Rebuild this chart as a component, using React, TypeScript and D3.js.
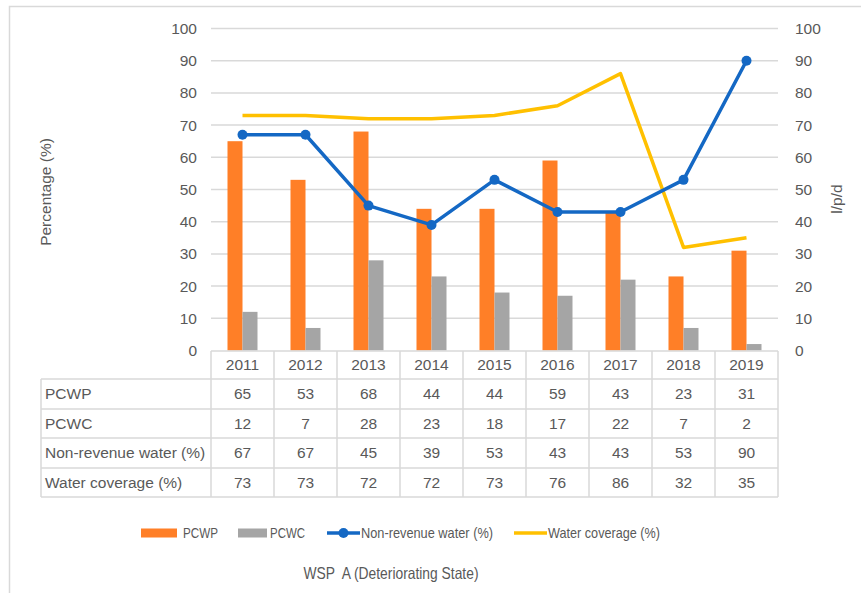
import React, { useEffect, useRef } from 'react';
import * as d3 from 'd3';

const years = ['2011', '2012', '2013', '2014', '2015', '2016', '2017', '2018', '2019'];
const pcwp = [65, 53, 68, 44, 44, 59, 43, 23, 31];
const pcwc = [12, 7, 28, 23, 18, 17, 22, 7, 2];
const nonRevenue = [67, 67, 45, 39, 53, 43, 43, 53, 90];
const coverage = [73, 73, 72, 72, 73, 76, 86, 32, 35];
const yTicks = [0, 10, 20, 30, 40, 50, 60, 70, 80, 90, 100];

const rowLabels = ['PCWP', 'PCWC', 'Non-revenue water (%)', 'Water coverage (%)'];
const rowValues = [pcwp, pcwc, nonRevenue, coverage];

const COLORS = {
  pcwp: '#FF7F27',
  pcwc: '#A5A5A5',
  nrw: '#1468C4',
  cov: '#FFC000',
  grid: '#D9D9D9',
  text: '#595959'
};

const FONT = '"Liberation Sans", Arial, sans-serif';

const App = () => {
  const svgRef = useRef(null);

  useEffect(() => {
    const svg = d3.select(svgRef.current);
    svg.selectAll('*').remove();

    const width = 861;
    const height = 593;
    const left = 211;
    const right = 778;
    const top = 28.5;
    const bottom = 350.5;

    svg.attr('width', width).attr('height', height);

    // outer frame
    svg.append('rect')
      .attr('x', 9.5).attr('y', 6.5)
      .attr('width', 900).attr('height', 700)
      .attr('fill', 'white')
      .attr('stroke', '#D9D9D9')
      .attr('stroke-width', 1.5);

    const x = d3.scaleBand().domain(years).range([left, right]);
    const y = d3.scaleLinear().domain([0, 100]).range([bottom, top]);

    const g = svg.append('g').style('font-family', FONT).style('fill', COLORS.text);

    // gridlines
    g.append('g')
      .selectAll('line')
      .data(yTicks.filter(t => t > 0))
      .enter()
      .append('line')
      .attr('x1', left).attr('x2', right)
      .attr('y1', d => y(d)).attr('y2', d => y(d))
      .attr('stroke', COLORS.grid)
      .attr('stroke-width', 1.5);

    // left ticks
    g.append('g')
      .selectAll('text')
      .data(yTicks)
      .enter()
      .append('text')
      .attr('x', 197)
      .attr('y', d => y(d))
      .attr('dy', '0.35em')
      .attr('text-anchor', 'end')
      .style('font-size', '15.5px')
      .text(d => d);

    // right ticks
    g.append('g')
      .selectAll('text')
      .data(yTicks)
      .enter()
      .append('text')
      .attr('x', 795)
      .attr('y', d => y(d))
      .attr('dy', '0.35em')
      .attr('text-anchor', 'start')
      .style('font-size', '15.5px')
      .text(d => d);

    // axis titles
    g.append('text')
      .attr('transform', `translate(51,192) rotate(-90)`)
      .attr('text-anchor', 'middle')
      .style('font-size', '15.5px')
      .text('Percentage (%)');

    g.append('text')
      .attr('transform', `translate(842,199) rotate(-90)`)
      .attr('text-anchor', 'middle')
      .style('font-size', '15.5px')
      .text('l/p/d');

    // bars
    const barW = 15;
    const bars = g.append('g');
    years.forEach((yr, i) => {
      const cx = x(yr) + x.bandwidth() / 2;
      bars.append('rect')
        .attr('x', cx - barW)
        .attr('y', y(pcwp[i]))
        .attr('width', barW)
        .attr('height', y(0) - y(pcwp[i]))
        .attr('fill', COLORS.pcwp);
      bars.append('rect')
        .attr('x', cx)
        .attr('y', y(pcwc[i]))
        .attr('width', barW)
        .attr('height', y(0) - y(pcwc[i]))
        .attr('fill', COLORS.pcwc);
    });

    const cxOf = (i: number) => x(years[i]) + x.bandwidth() / 2;
    const line = d3.line<number>().x((d, i) => cxOf(i)).y(d => y(d));

    g.append('path')
      .attr('d', line(coverage))
      .attr('fill', 'none')
      .attr('stroke', COLORS.cov)
      .attr('stroke-width', 3.5)
      .attr('stroke-linejoin', 'round');

    g.append('path')
      .attr('d', line(nonRevenue))
      .attr('fill', 'none')
      .attr('stroke', COLORS.nrw)
      .attr('stroke-width', 3.5)
      .attr('stroke-linejoin', 'round');

    g.append('g')
      .selectAll('circle')
      .data(nonRevenue)
      .enter()
      .append('circle')
      .attr('cx', (d, i) => cxOf(i))
      .attr('cy', d => y(d))
      .attr('r', 5)
      .attr('fill', COLORS.nrw);

    // data table
    const tableLeft = 41;
    const rowEdges = [351, 379, 409, 438, 468, 497];
    const tbl = g.append('g');
    const lineColor = '#D9D9D9';

    rowEdges.forEach((ry, k) => {
      tbl.append('line')
        .attr('x1', k === 0 ? left : tableLeft)
        .attr('x2', right)
        .attr('y1', ry).attr('y2', ry)
        .attr('stroke', lineColor)
        .attr('stroke-width', 1.5);
    });
    const colEdges = years.map(yr => x(yr)).concat([right]);
    colEdges.forEach(cx => {
      tbl.append('line')
        .attr('x1', cx).attr('x2', cx)
        .attr('y1', rowEdges[0]).attr('y2', rowEdges[5])
        .attr('stroke', lineColor)
        .attr('stroke-width', 1.5);
    });
    tbl.append('line')
      .attr('x1', tableLeft).attr('x2', tableLeft)
      .attr('y1', rowEdges[1]).attr('y2', rowEdges[5])
      .attr('stroke', lineColor)
      .attr('stroke-width', 1.5);

    years.forEach((yr, i) => {
      tbl.append('text')
        .attr('x', cxOf(i))
        .attr('y', (rowEdges[0] + rowEdges[1]) / 2)
        .attr('dy', '0.35em')
        .attr('text-anchor', 'middle')
        .style('font-size', '15.5px')
        .text(yr);
    });

    rowLabels.forEach((lbl, r) => {
      const cy = (rowEdges[r + 1] + rowEdges[r + 2]) / 2;
      tbl.append('text')
        .attr('x', tableLeft + 4)
        .attr('y', cy)
        .attr('dy', '0.35em')
        .style('font-size', '15.5px')
        .text(lbl);
      rowValues[r].forEach((v, i) => {
        tbl.append('text')
          .attr('x', cxOf(i))
          .attr('y', cy)
          .attr('dy', '0.35em')
          .attr('text-anchor', 'middle')
          .style('font-size', '15.5px')
          .text(v);
      });
    });

    // legend (narrow text, like the original condensed font)
    const ly = 533;
    const leg = g.append('g').style('font-size', '15px');
    const legText = (tx: number, len: number, label: string) =>
      leg.append('text')
        .attr('x', tx).attr('y', ly).attr('dy', '0.35em')
        .attr('textLength', len).attr('lengthAdjust', 'spacingAndGlyphs')
        .text(label);
    leg.append('rect').attr('x', 141).attr('y', ly - 4.5).attr('width', 36).attr('height', 9).attr('fill', COLORS.pcwp);
    legText(183, 35, 'PCWP');
    leg.append('rect').attr('x', 238).attr('y', ly - 4.5).attr('width', 29).attr('height', 9).attr('fill', COLORS.pcwc);
    legText(270, 35, 'PCWC');
    leg.append('line').attr('x1', 327).attr('x2', 360).attr('y1', ly).attr('y2', ly)
      .attr('stroke', COLORS.nrw).attr('stroke-width', 3.5);
    leg.append('circle').attr('cx', 343.5).attr('cy', ly).attr('r', 5).attr('fill', COLORS.nrw);
    legText(361, 132, 'Non-revenue water (%)');
    leg.append('line').attr('x1', 514).attr('x2', 547).attr('y1', ly).attr('y2', ly)
      .attr('stroke', COLORS.cov).attr('stroke-width', 3.5);
    legText(548, 112, 'Water coverage (%)');

    // caption
    g.append('text')
      .attr('x', 391)
      .attr('y', 573)
      .attr('dy', '0.35em')
      .attr('text-anchor', 'middle')
      .attr('textLength', 175)
      .attr('lengthAdjust', 'spacingAndGlyphs')
      .style('font-size', '16.5px')
      .style('white-space', 'pre')
      .text('WSP  A (Deteriorating State)');
  }, []);

  return (
    <div style={{ position: 'absolute', left: 0, top: 0 }}>
      <svg ref={svgRef} style={{ display: 'block' }} />
    </div>
  );
};

export default App;
